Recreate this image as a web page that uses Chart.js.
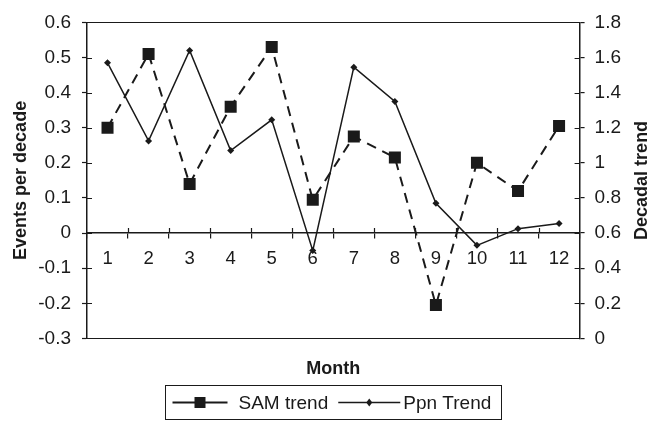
<!DOCTYPE html>
<html>
<head>
<meta charset="utf-8">
<script src="https://cdn.jsdelivr.net/npm/chart.js@4.4.1/dist/chart.umd.min.js"></script>
<style>
  body { margin: 0; background: #fff; }
  #wrap { width: 650px; height: 421px; position: relative; }
</style>
</head>
<body>
<div id="wrap"><canvas id="chart"></canvas></div>
<script>
// data
const months = ['1', '2', '3', '4', '5', '6', '7', '8', '9', '10', '11', '12'];
const samTrend = [0.30, 0.51, 0.14, 0.36, 0.53, 0.095, 0.275, 0.215, -0.205, 0.20, 0.12, 0.305];
const ppnTrend = [1.57, 1.125, 1.64, 1.07, 1.245, 0.50, 1.545, 1.35, 0.77, 0.53, 0.625, 0.655];
const leftTicks = { min: -0.3, max: 0.6, step: 0.1 };
const rightTicks = { min: 0, max: 1.8, step: 0.2 };

const FONT = '"Liberation Sans", Arial, sans-serif';
const INK = '#1a1a1a';
const fmt = v => String(+Number(v).toFixed(1));

// tick marks in the reference cross the axis line, so add the inner half
const crossTicks = {
  id: 'crossTicks',
  afterDraw(chart) {
    const { ctx, scales } = chart;
    ctx.save();
    ctx.strokeStyle = INK;
    ctx.lineWidth = 1.2;
    ctx.beginPath();
    const y0 = scales.y.getPixelForValue(0);
    const xs = scales.x;
    for (let i = 1; i < months.length; i++) {
      const px = Math.round((xs.getPixelForTick(i - 1) + xs.getPixelForTick(i)) / 2) + 0.5;
      ctx.moveTo(px, y0 - 5); ctx.lineTo(px, y0);
    }
    scales.y.ticks.forEach((t, i) => {
      const py = Math.round(scales.y.getPixelForTick(i)) + 0.5;
      ctx.moveTo(scales.y.right, py); ctx.lineTo(scales.y.right + 5, py);
    });
    scales.y1.ticks.forEach((t, i) => {
      const py = Math.round(scales.y1.getPixelForTick(i)) + 0.5;
      ctx.moveTo(scales.y1.left - 5, py); ctx.lineTo(scales.y1.left, py);
    });
    ctx.stroke();
    ctx.restore();
  }
};

// right title reads bottom-to-top, so draw it ourselves
const rightTitle = {
  id: 'rightTitle',
  afterDraw(chart) {
    const { ctx, chartArea } = chart;
    ctx.save();
    ctx.translate(642, (chartArea.top + chartArea.bottom) / 2);
    ctx.rotate(-Math.PI / 2);
    ctx.font = 'bold 18px ' + FONT;
    ctx.fillStyle = INK;
    ctx.textAlign = 'center';
    ctx.textBaseline = 'middle';
    ctx.fillText('Decadal trend', 0, 0);
    ctx.restore();
  }
};

// boxed legend with line-marker-line symbols
const boxLegend = {
  id: 'boxLegend',
  afterDraw(chart) {
    const { ctx, chartArea } = chart;
    ctx.save();
    ctx.font = '19px ' + FONT;
    const w1 = ctx.measureText('SAM trend').width;
    const w2 = ctx.measureText('Ppn Trend').width;
    const sym1 = 55, sym2 = 62;
    const total = 7 + sym1 + 11 + w1 + 10 + sym2 + 3 + w2 + 10;
    const cx = (chartArea.left + chartArea.right) / 2;
    const left = Math.round(cx - total / 2) + 0.5;
    const top = 385.5, h = 34, cy = top + h / 2;
    ctx.strokeStyle = INK;
    ctx.lineWidth = 1;
    ctx.strokeRect(left, top, Math.round(total), h);

    let x = left + 7;
    ctx.lineWidth = 2;
    ctx.beginPath(); ctx.moveTo(x, cy); ctx.lineTo(x + sym1, cy); ctx.stroke();
    ctx.fillStyle = INK;
    ctx.fillRect(x + sym1 / 2 - 5.5, cy - 5.5, 11, 11);
    x += sym1 + 11;
    ctx.textBaseline = 'middle';
    ctx.fillText('SAM trend', x, cy + 1);
    x += w1 + 10;
    ctx.lineWidth = 1.5;
    ctx.beginPath(); ctx.moveTo(x, cy); ctx.lineTo(x + sym2, cy); ctx.stroke();
    const dx = x + sym2 / 2;
    ctx.beginPath();
    ctx.moveTo(dx, cy - 4); ctx.lineTo(dx + 3, cy); ctx.lineTo(dx, cy + 4); ctx.lineTo(dx - 3, cy);
    ctx.closePath(); ctx.fill();
    x += sym2 + 3;
    ctx.fillText('Ppn Trend', x, cy + 1);
    ctx.restore();
  }
};

new Chart(document.getElementById('chart'), {
  type: 'line',
  data: {
    labels: months,
    datasets: [
      {
        label: 'SAM trend',
        data: samTrend,
        yAxisID: 'y',
        borderColor: INK,
        backgroundColor: INK,
        borderWidth: 2,
        borderDash: [10, 7],
        pointStyle: 'rect',
        pointRadius: 8.5,
        pointBorderWidth: 0,
        tension: 0
      },
      {
        label: 'Ppn Trend',
        data: ppnTrend,
        yAxisID: 'y1',
        borderColor: INK,
        backgroundColor: INK,
        borderWidth: 1.5,
        pointStyle: 'rectRot',
        pointRadius: 3.5,
        pointBorderWidth: 0,
        tension: 0
      }
    ]
  },
  options: {
    responsive: true,
    maintainAspectRatio: false,
    animation: false,
    layout: { padding: { left: 10, right: 19, top: 16, bottom: 41 } },
    plugins: {
      legend: { display: false },
      tooltip: { enabled: false }
    },
    scales: {
      x: {
        type: 'category',
        position: { y: 0 },
        offset: true,
        grid: { offset: true, drawOnChartArea: false, tickLength: 5, color: INK, lineWidth: 1.2 },
        border: { color: INK, width: 1.5 },
        ticks: { color: INK, font: { family: FONT, size: 18.5 }, padding: 10, maxRotation: 0 }
      },
      x2: {
        type: 'category',
        position: 'bottom',
        offset: true,
        grid: { display: false },
        border: { display: false },
        ticks: { display: false },
        title: { display: true, text: 'Month', color: INK, font: { family: FONT, size: 18, weight: 'bold' }, padding: { top: 12, bottom: 0 } }
      },
      y: {
        position: 'left',
        min: leftTicks.min,
        max: leftTicks.max,
        afterFit: scale => { scale.width = 77; },
        ticks: { stepSize: leftTicks.step, color: INK, font: { family: FONT, size: 19 }, padding: 11, callback: fmt },
        grid: {
          tickLength: 5,
          tickColor: INK,
          tickWidth: 1.2,
          color: ctx => (ctx.index === 0 || ctx.index === 9) ? INK : 'rgba(0,0,0,0)'
        },
        border: { color: INK, width: 1.5 },
        title: { display: true, text: 'Events per decade', color: INK, font: { family: FONT, size: 18, weight: 'bold' }, padding: { top: 0, bottom: 0 } }
      },
      y1: {
        position: 'right',
        min: rightTicks.min,
        max: rightTicks.max,
        ticks: { stepSize: rightTicks.step, color: INK, font: { family: FONT, size: 19 }, padding: 10, callback: fmt },
        grid: { drawOnChartArea: false, tickLength: 5, color: INK, lineWidth: 1.2 },
        border: { color: INK, width: 1.5 }
      }
    }
  },
  plugins: [crossTicks, rightTitle, boxLegend]
});
</script>
</body>
</html>
